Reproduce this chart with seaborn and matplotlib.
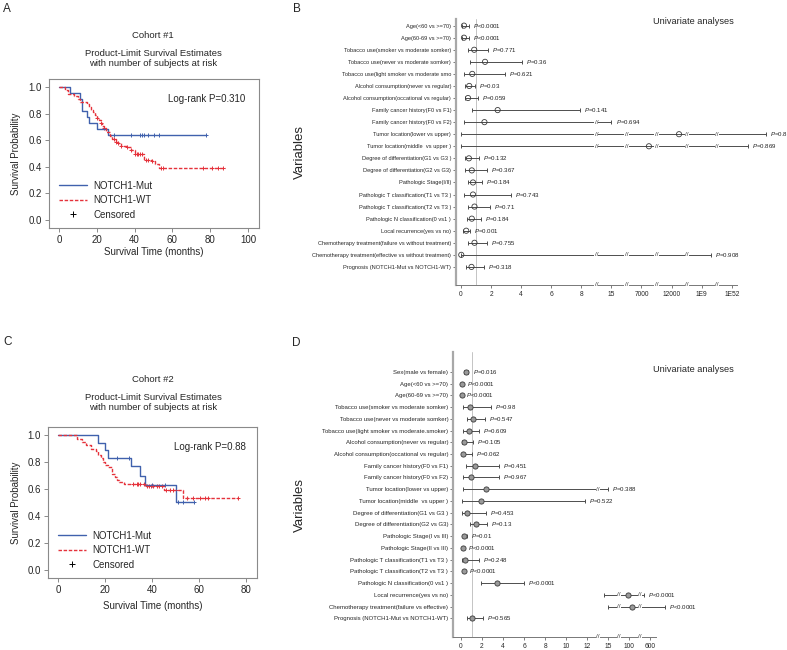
import numpy as np
import matplotlib
matplotlib.use("Agg")
import matplotlib.pyplot as plt
from matplotlib.lines import Line2D
import seaborn as sns

sns.set_theme(style="white")
plt.rcParams["font.family"] = ["Liberation Sans", "DejaVu Sans"]
plt.rcParams["mathtext.fontset"] = "custom"
plt.rcParams["mathtext.it"] = "Liberation Sans:italic"
plt.rcParams["mathtext.rm"] = "Liberation Sans"

BLUE = "#4061ad"
RED = "#e5323b"

# ---- Kaplan-Meier data, cohort 1 ----
mut1_t = [0, 6, 11, 12, 15, 16, 20, 26, 78]
mut1_s = [1.0, 0.955, 0.909, 0.818, 0.773, 0.727, 0.682, 0.636, 0.636]
mut1_cens = [29, 38, 43, 44, 45, 47, 50, 53, 78]
wt1_t = [0, 3, 5, 8, 10, 11, 15, 16, 17, 18, 19, 20, 21, 22, 23, 24, 25, 27, 28,
         30, 31, 33, 36, 38, 40, 45, 49, 51, 53, 88]
wt1_s = [1.0, 0.98, 0.95, 0.93, 0.91, 0.89, 0.87, 0.85, 0.83, 0.81, 0.79, 0.77, 0.75,
         0.73, 0.71, 0.69, 0.66, 0.63, 0.61, 0.59, 0.58, 0.56, 0.55, 0.53, 0.50,
         0.45, 0.44, 0.42, 0.39, 0.39]
wt1_cens = [20, 22, 24, 29, 30, 31, 33, 36, 38, 40, 41, 42, 43, 44, 46, 47, 49,
            54, 55, 76, 81, 84, 87]

# ---- Kaplan-Meier data, cohort 2 ----
mut2_t = [0, 17, 20, 21, 31, 35, 37, 50, 58]
mut2_s = [1.0, 0.944, 0.889, 0.833, 0.772, 0.70, 0.63, 0.505, 0.505]
mut2_cens = [25, 30, 40, 45.5, 51, 53, 58]
wt2_t = [0, 8, 10, 12, 14, 16, 17, 18, 19, 20, 21, 23, 24, 25, 26, 28, 37, 45, 53, 76.5]
wt2_s = [1.0, 0.97, 0.95, 0.93, 0.90, 0.88, 0.85, 0.83, 0.80, 0.78, 0.76, 0.71, 0.69,
         0.67, 0.65, 0.64, 0.62, 0.59, 0.535, 0.535]
wt2_cens = [32, 33.5, 34, 35, 36.5, 37.7, 38.7, 39.5, 40.5, 42, 43, 44, 46, 47.5, 49,
            50, 55, 57.6, 60.5, 62.6, 64, 76.5]

# ---- forest plot, cohort 1 ----
b_labels = [
    "Age(<60 vs >=70)", "Age(60-69 vs >=70)",
    "Tobacco use(smoker vs moderate somker)", "Tobacco use(never vs moderate somker)",
    "Tobacco use(light smoker vs moderate smo",
    "Alcohol consumption(never vs regular)", "Alcohol consumption(occational vs regular)",
    "Family cancer history(F0 vs F1)", "Family cancer history(F0 vs F2)",
    "Tumor location(lower vs upper)", "Tumor location(middle  vs upper )",
    "Degree of differentiation(G1 vs G3 )", "Degree of differentiation(G2 vs G3)",
    "Pathologic Stage(I/II)",
    "Pathologic T classification(T1 vs T3 )", "Pathologic T classification(T2 vs T3 )",
    "Pathologic N classification(0 vs1 )", "Local recurrence(yes vs no)",
    "Chemotherapy treatment(failure vs without treatment)",
    "Chemotherapy treatment(effective vs without treatment)",
    "Prognosis (NOTCH1-Mut vs NOTCH1-WT)",
]
b_hr = [0.2, 0.2, 0.88, 1.6, 0.75, 0.55, 0.47, 2.44, 1.56, 2e5, 8e3, 0.53, 0.72, 0.8,
        0.8, 0.9, 0.72, 0.35, 0.9, 0.02, 0.7]
b_lo = [0.1, 0.1, 0.47, 0.6, 0.2, 0.25, 0.25, 0.75, 0.2, 0.02, 0.02, 0.25, 0.3, 0.5,
        0.2, 0.5, 0.4, 0.15, 0.5, 0.0, 0.35]
b_hi = [0.55, 0.55, 1.8, 4.05, 2.9, 0.9, 1.1, 7.9, 15.2, 1e101, 5e75, 1.2, 1.7, 1.4,
        3.3, 1.9, 1.3, 0.6, 1.7, 1e22, 1.5]
b_p = ["<0.0001", "<0.0001", "0.771", "0.36", "0.621", "0.03", "0.059", "0.141",
       "0.694", "0.876", "0.869", "0.132", "0.367", "0.184", "0.743", "0.71", "0.184",
       "0.001", "0.755", "0.908", "0.318"]
b_ticks = [0, 2, 4, 6, 8, 15, 7000, 12000, 1e9, 1e52]
b_ticklabels = ["0", "2", "4", "6", "8", "15", "7000", "12000", "1E9", "1E52"]

# ---- forest plot, cohort 2 ----
d_labels = [
    "Sex(male vs female)", "Age(<60 vs >=70)", "Age(60-69 vs >=70)",
    "Tobacco use(smoker vs moderate somker)", "Tobacco use(never vs moderate somker)",
    "Tobacco use(light smoker vs moderate.smoker)",
    "Alcohol consumption(never vs regular)", "Alcohol consumption(occational vs regular)",
    "Family cancer history(F0 vs F1)", "Family cancer history(F0 vs F2)",
    "Tumor location(lower vs upper)", "Tumor location(middle  vs upper )",
    "Degree of differentiation(G1 vs G3 )", "Degree of differentiation(G2 vs G3)",
    "Pathologic Stage(I vs III)", "Pathologic Stage(II vs III)",
    "Pathologic T classification(T1 vs T3 )", "Pathologic T classification(T2 vs T3 )",
    "Pathologic N classification(0 vs1 )", "Local recurrence(yes vs no)",
    "Chemotherapy treatment(failure vs effective)",
    "Prognosis (NOTCH1-Mut vs NOTCH1-WT)",
]
d_hr = [0.48, 0.08, 0.06, 0.86, 1.14, 0.76, 0.25, 0.2, 1.33, 0.95, 2.4, 1.9, 0.55, 1.4,
        0.3, 0.2, 0.35, 0.25, 3.45, 91, 130, 1.05]
d_lo = [0.3, 0.02, 0.02, 0.2, 0.55, 0.2, 0.1, 0.05, 0.48, 0.22, 0.2, 0.1, 0.1, 0.86,
        0.2, 0.1, 0.05, 0.15, 1.95, 14.4, 15.2, 0.55]
d_hi = [0.7, 0.15, 0.12, 2.86, 2.3, 1.7, 1.15, 1.05, 3.6, 3.6, 15, 11.8, 2.4, 2.5,
        0.6, 0.3, 1.7, 0.35, 5.95, 350, 2100, 2.1]
d_p = ["0.016", "<0.0001", "<0.0001", "0.98", "0.547", "0.609", "0.105", "0.062",
       "0.451", "0.967", "0.388", "0.522", "0.453", "0.13", "0.01", "<0.0001", "0.248",
       "<0.0001", "<0.0001", "<0.0001", "<0.0001", "0.565"]
d_ticks = [0, 2, 4, 6, 8, 10, 12, 15, 100, 600]
d_ticklabels = ["0", "2", "4", "6", "8", "10", "12", "15", "100", "600"]


def km_panel(ax, groups, xlim, xticks, logrank, lr_xy):
    for t, s, cens, color, ls in groups:
        t = np.array(t, float)
        s = np.array(s, float)
        sns.lineplot(x=t, y=s, ax=ax, color=color, lw=1.0, linestyle=ls,
                     drawstyle="steps-post", estimator=None, sort=False)
        cy = s[np.searchsorted(t, cens, side="right") - 1]
        sns.scatterplot(x=cens, y=cy, ax=ax, marker="+", color=color, s=12,
                        linewidth=0.7, legend=False)
    ax.set_xlim(*xlim)
    ax.set_ylim(-0.06, 1.06)
    ax.set_xticks(xticks)
    ax.set_yticks([0, 0.2, 0.4, 0.6, 0.8, 1.0])
    ax.set_yticklabels(["0.0", "0.2", "0.4", "0.6", "0.8", "1.0"])
    ax.tick_params(labelsize=7, length=3, width=0.6, color="#777", pad=2,
                   bottom=True, left=True)
    for sp in ax.spines.values():
        sp.set_color("#8a8a8a")
        sp.set_linewidth(0.8)
    ax.set_xlabel("Survival Time (months)", fontsize=7)
    ax.set_ylabel("Survival Probability", fontsize=7)
    ax.text(lr_xy[0], lr_xy[1], logrank, transform=ax.transAxes, fontsize=7)
    handles = [Line2D([], [], color=BLUE, lw=1.0),
               Line2D([], [], color=RED, lw=1.0, ls=(0, (2.5, 1.2))),
               Line2D([], [], ls="none", marker="+", color="black", ms=4, mew=0.7)]
    ax.legend(handles, ["NOTCH1-Mut", "NOTCH1-WT", "Censored"], loc="lower left",
              bbox_to_anchor=(0.03, 0.03), frameon=False, fontsize=7,
              handlelength=2.9, handletextpad=0.6, labelspacing=0.45,
              borderaxespad=0)


def make_scale(lin_max, knot_vals, knot_pos):
    lk = np.log10(np.array(knot_vals, float))

    def fwd(v):
        v = np.asarray(v, float)
        return np.where(v <= lin_max, v,
                        np.interp(np.log10(np.maximum(v, lin_max)), lk, knot_pos))

    def inv(p):
        p = np.asarray(p, float)
        return np.where(p <= lin_max, p, 10 ** np.interp(p, knot_pos, lk))

    return fwd, inv


def forest_panel(ax, labels, hr, lo, hi, pvals, scale, ticks, ticklabels,
                 break_pos, xlim_pos, ylim, face, lab_size):
    fwd, inv = scale
    ax.set_xscale("function", functions=(fwd, inv))
    rows = np.arange(len(labels))
    ax.axvline(1, color="#c4c4c4", lw=0.7, zorder=1)
    ax.hlines(rows, lo, hi, color="#4d4d4d", lw=0.7, clip_on=False, zorder=2)
    ax.scatter(lo, rows, marker="|", s=9, color="#4d4d4d", lw=0.7, clip_on=False, zorder=2)
    ax.scatter(hi, rows, marker="|", s=9, color="#4d4d4d", lw=0.7, clip_on=False, zorder=2)
    sns.scatterplot(x=hr, y=rows, ax=ax, marker="o", s=14, fc=face, ec="#3a3a3a",
                    linewidth=0.6, zorder=4, clip_on=False, legend=False)
    for r, h, p in zip(rows, hi, pvals):
        sign = "" if p.startswith("<") else "="
        ax.annotate(f"$P${sign}{p}", (h, r), xytext=(3, 0), textcoords="offset points",
                    ha="left", va="center", fontsize=4.4, color="#222",
                    annotation_clip=False)
    brk = inv(np.array(break_pos, float))
    bbox = dict(boxstyle="square,pad=0.05", fc="white", ec="none")
    for r, l, h in zip(rows, lo, hi):
        for b in brk:
            if l < b < h:
                ax.text(b, r, "//", ha="center", va="center", fontsize=4.6,
                        color="#333", bbox=bbox, zorder=3, clip_on=False)
    for b in brk:
        ax.text(b, 0, "//", transform=ax.get_xaxis_transform(), ha="center",
                va="center", fontsize=4.6, color="#333", bbox=bbox, zorder=5,
                clip_on=False)
    ax.set_xlim(inv(xlim_pos[0]), inv(xlim_pos[1]))
    ax.set_ylim(*ylim)
    ax.set_xticks(ticks)
    ax.set_xticklabels(ticklabels)
    ax.set_yticks(rows)
    ax.set_yticklabels(labels)
    ax.tick_params(axis="x", labelsize=4.8, length=2.5, width=0.6, color="#666",
                   pad=2, bottom=True)
    ax.tick_params(axis="y", labelsize=lab_size, length=2, width=0.6, color="#666",
                   pad=1.5, left=True)
    ax.spines[["top", "right"]].set_visible(False)
    ax.spines["left"].set_color("#a8a8a8")
    ax.spines["left"].set_linewidth(1.6)
    ax.spines["bottom"].set_color("#777")
    ax.spines["bottom"].set_linewidth(0.7)
    ax.set_xlabel("")
    ax.set_ylabel("")


fig = plt.figure(figsize=(7.87, 6.5), dpi=100)
W, H = 787, 650


def add_axes(x0, y0, x1, y1):
    return fig.add_axes([x0 / W, 1 - y1 / H, (x1 - x0) / W, (y1 - y0) / H])


# panel A
axA = add_axes(49, 79, 259, 228)
km_panel(axA, [(mut1_t, mut1_s, mut1_cens, BLUE, "-"),
               (wt1_t, wt1_s, wt1_cens, RED, (0, (2.5, 1.2)))],
         (-5.3, 105.8), [0, 20, 40, 60, 80, 100], "Log-rank P=0.310", (0.567, 0.845))
axA.yaxis.set_label_coords(-0.135, 0.5)
axA.xaxis.set_label_coords(0.5, -0.125)

# panel C
axC = add_axes(48, 427, 257, 578)
km_panel(axC, [(mut2_t, mut2_s, mut2_cens, BLUE, "-"),
               (wt2_t, wt2_s, wt2_cens, RED, (0, (2.5, 1.2)))],
         (-4.4, 84.7), [0, 20, 40, 60, 80], "Log-rank P=0.88", (0.603, 0.85))
axC.yaxis.set_label_coords(-0.13, 0.5)
axC.xaxis.set_label_coords(0.5, -0.155)

for txt, y in [("Cohort #1", 35), ("Product-Limit Survival Estimates", 53),
               ("with number of subjects at risk", 63.5),
               ("Cohort #2", 380), ("Product-Limit Survival Estimates", 397),
               ("with number of subjects at risk", 408)]:
    fig.text(153 / W, 1 - y / H, txt, ha="center", va="center", fontsize=6.8)

# panel B
axB = add_axes(456, 19, 737, 285)
scaleB = make_scale(8, [8, 15, 7000, 12000, 1e9, 1e52, 1e95, 1e140],
                    [8, 10, 12, 14, 16, 18, 20, 22])
forest_panel(axB, b_labels, b_hr, b_lo, b_hi, b_p, scaleB, b_ticks, b_ticklabels,
             [9, 11, 13, 15, 17], (-0.33, 18.35), (21.5, -0.55), "none", 4.1)

# panel D
axD = add_axes(453, 352, 656, 637)
scaleD = make_scale(12, [12, 15, 100, 600, 3600], [12, 14, 16, 18, 20])
forest_panel(axD, d_labels, d_hr, d_lo, d_hi, d_p, scaleD, d_ticks, d_ticklabels,
             [13, 15, 17], (-0.76, 18.55), (22.6, -1.7), "#9a9a9a", 4.3)

for x, y in [(300, 152), (300, 505)]:
    fig.text(x / W, 1 - y / H, "Variables", rotation=90, ha="center", va="center",
             fontsize=9.5)
for y in [22, 370]:
    fig.text(693 / W, 1 - y / H, "Univariate analyses", ha="center", va="center",
             fontsize=6.6)

for lab, x, y in [("A", 3, 9), ("B", 293, 9), ("C", 3, 342), ("D", 292, 343)]:
    fig.text(x / W, 1 - y / H, lab, ha="left", va="center", fontsize=8.5)

fig.savefig("out.png", dpi=100)
